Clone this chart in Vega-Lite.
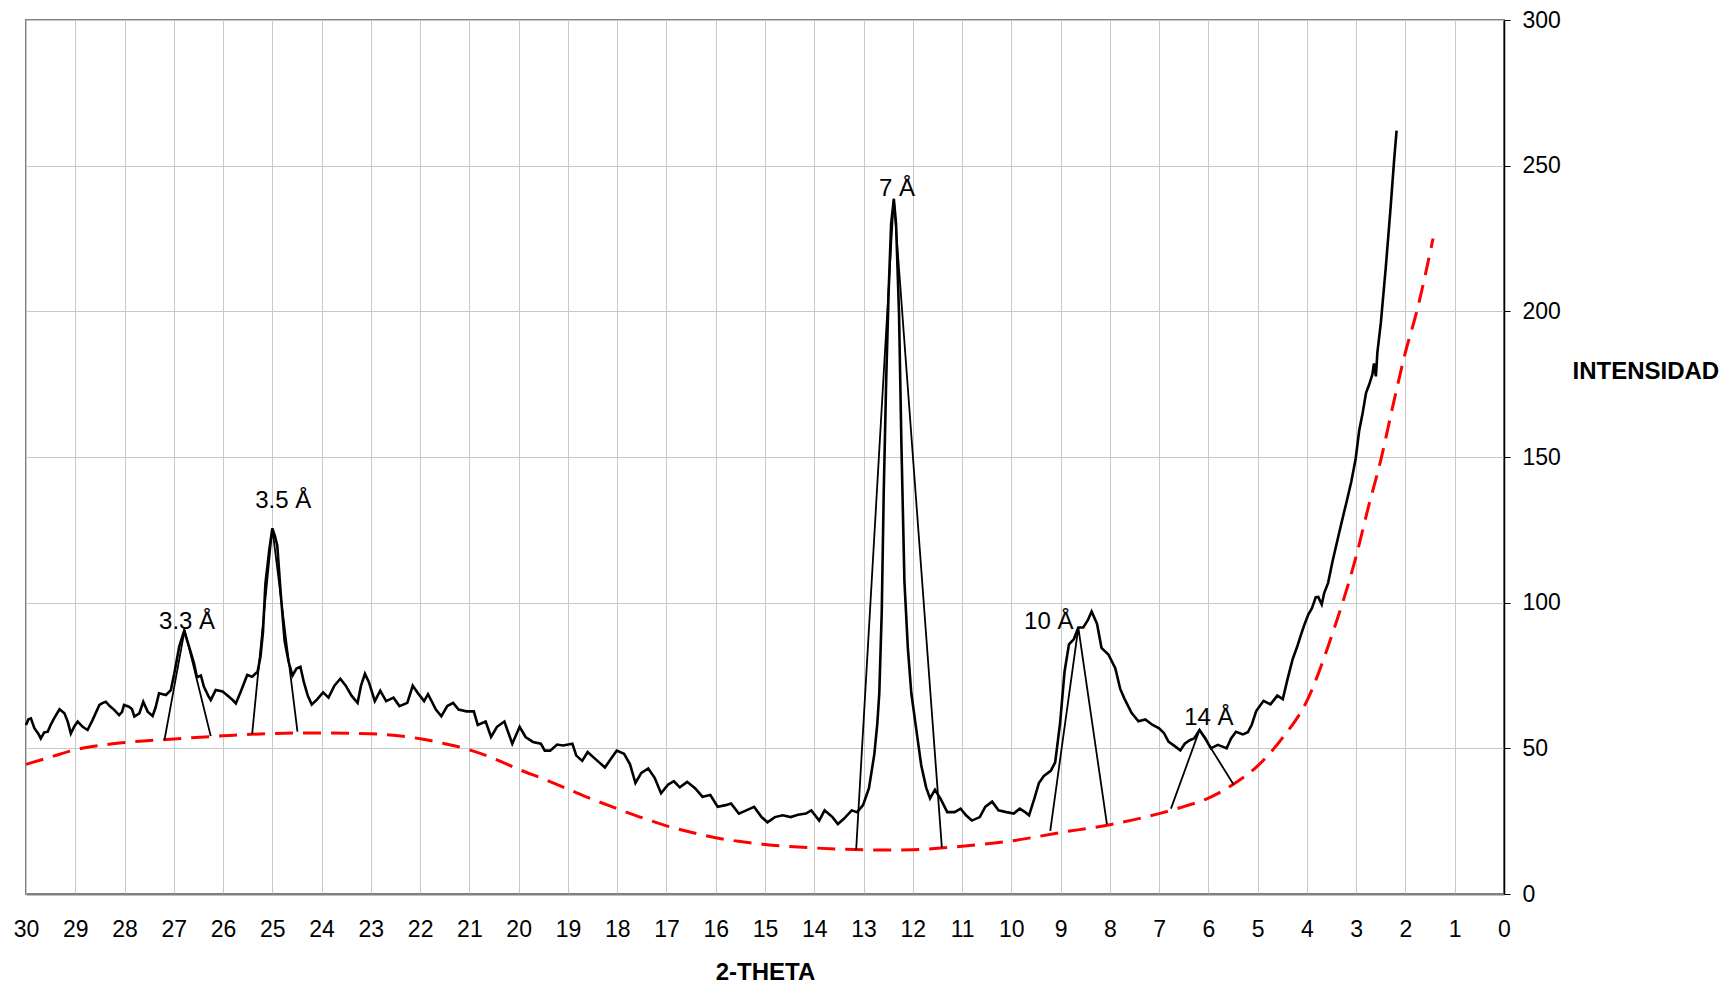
{
  "$schema": "https://vega.github.io/schema/vega-lite/v6.json",
  "width": 1478,
  "height": 874,
  "autosize": {"type": "none"},
  "padding": {"left": 26, "top": 20, "right": 222, "bottom": 92},
  "background": "white",
  "config": {
    "view": {"stroke": "#808080", "strokeWidth": 2},
    "axis": {
      "gridColor": "#c8c8c8",
      "gridWidth": 1,
      "labelFont": "Liberation Sans",
      "titleFont": "Liberation Sans",
      "labelFontSize": 23,
      "titleFontSize": 24,
      "labelColor": "#000000",
      "titleColor": "#000000",
      "titleFontWeight": "bold",
      "labelFlush": false,
      "labelOverlap": false
    }
  },
  "datasets": {
    "scan": [
      {"t":30.00,"i":58},{"t":29.95,"i":60},{"t":29.90,"i":60.3},{"t":29.83,"i":56.9},{"t":29.75,"i":55},{"t":29.70,"i":53.4},{"t":29.63,"i":55.5},{"t":29.56,"i":55.7},{"t":29.50,"i":58},{"t":29.43,"i":60.3},{"t":29.32,"i":63.4},{"t":29.22,"i":62},{"t":29.15,"i":59},{"t":29.09,"i":55.1},{"t":29.02,"i":57.5},{"t":28.95,"i":59.2},{"t":28.85,"i":57.4},{"t":28.75,"i":56.3},{"t":28.65,"i":59.7},{"t":28.51,"i":64.9},{"t":28.45,"i":65.5},{"t":28.38,"i":66},{"t":28.30,"i":64.5},{"t":28.21,"i":63.2},{"t":28.11,"i":61.4},{"t":28.05,"i":62.5},{"t":28.01,"i":64.9},{"t":27.91,"i":64.3},{"t":27.85,"i":63.5},{"t":27.80,"i":60.9},{"t":27.70,"i":62},{"t":27.62,"i":66},{"t":27.53,"i":62.6},{"t":27.43,"i":61.1},{"t":27.37,"i":64},{"t":27.30,"i":68.9},{"t":27.16,"i":68.3},{"t":27.06,"i":70},{"t":26.99,"i":75.7},{"t":26.89,"i":84.9},{"t":26.79,"i":90.3},{"t":26.69,"i":84.9},{"t":26.59,"i":79.2},{"t":26.53,"i":74.4},{"t":26.45,"i":75},{"t":26.39,"i":71.2},{"t":26.30,"i":68},{"t":26.25,"i":66.6},{"t":26.15,"i":70},{"t":26.01,"i":69.5},{"t":25.88,"i":67.7},{"t":25.80,"i":66.5},{"t":25.74,"i":65.4},{"t":25.64,"i":69.5},{"t":25.51,"i":75.2},{"t":25.41,"i":74.6},{"t":25.30,"i":76.3},{"t":25.24,"i":81.5},{"t":25.19,"i":90},{"t":25.14,"i":106.6},{"t":25.06,"i":118.4},{"t":25.00,"i":125.5},{"t":24.95,"i":123},{"t":24.90,"i":119.6},{"t":24.83,"i":103.2},{"t":24.75,"i":86.8},{"t":24.67,"i":79.7},{"t":24.59,"i":75},{"t":24.51,"i":77.4},{"t":24.43,"i":78},{"t":24.36,"i":72.7},{"t":24.28,"i":68},{"t":24.20,"i":65},{"t":24.09,"i":66.8},{"t":23.97,"i":69.2},{"t":23.86,"i":67.4},{"t":23.74,"i":71.5},{"t":23.62,"i":73.9},{"t":23.51,"i":71.5},{"t":23.39,"i":68},{"t":23.27,"i":65.6},{"t":23.20,"i":71.5},{"t":23.12,"i":75.6},{"t":23.04,"i":72.7},{"t":22.92,"i":66.2},{"t":22.81,"i":69.8},{"t":22.69,"i":66.2},{"t":22.54,"i":67.4},{"t":22.42,"i":64.5},{"t":22.26,"i":65.6},{"t":22.15,"i":71.5},{"t":22.03,"i":68.6},{"t":21.92,"i":66.2},{"t":21.84,"i":68.6},{"t":21.68,"i":63.3},{"t":21.57,"i":61},{"t":21.45,"i":64.5},{"t":21.33,"i":65.6},{"t":21.22,"i":63.3},{"t":21.06,"i":62.7},{"t":20.91,"i":62.7},{"t":20.83,"i":58},{"t":20.67,"i":59.2},{"t":20.56,"i":53.9},{"t":20.44,"i":57.4},{"t":20.29,"i":59.2},{"t":20.13,"i":51.6},{"t":19.98,"i":57.4},{"t":19.86,"i":53.9},{"t":19.71,"i":52.2},{"t":19.55,"i":51.6},{"t":19.47,"i":49.2},{"t":19.36,"i":49.2},{"t":19.22,"i":51.3},{"t":19.10,"i":51},{"t":18.91,"i":51.6},{"t":18.83,"i":47.5},{"t":18.71,"i":45.7},{"t":18.60,"i":48.7},{"t":18.48,"i":46.9},{"t":18.36,"i":45.1},{"t":18.25,"i":43.4},{"t":18.13,"i":46.3},{"t":18.01,"i":49.2},{"t":17.86,"i":48.1},{"t":17.74,"i":44.5},{"t":17.63,"i":38.1},{"t":17.51,"i":41.6},{"t":17.37,"i":43.1},{"t":17.24,"i":39.9},{"t":17.11,"i":34.6},{"t":16.97,"i":37.5},{"t":16.85,"i":38.7},{"t":16.73,"i":36.6},{"t":16.58,"i":38.5},{"t":16.42,"i":36.3},{"t":16.27,"i":33.4},{"t":16.11,"i":34},{"t":15.96,"i":29.9},{"t":15.80,"i":30.5},{"t":15.69,"i":31.1},{"t":15.53,"i":27.6},{"t":15.38,"i":28.7},{"t":15.22,"i":29.9},{"t":15.07,"i":26.4},{"t":14.95,"i":24.6},{"t":14.80,"i":26.4},{"t":14.64,"i":27},{"t":14.48,"i":26.4},{"t":14.33,"i":27.2},{"t":14.17,"i":27.6},{"t":14.06,"i":28.7},{"t":13.90,"i":25.2},{"t":13.79,"i":28.7},{"t":13.63,"i":26.4},{"t":13.52,"i":24},{"t":13.40,"i":25.8},{"t":13.24,"i":28.7},{"t":13.13,"i":28.1},{"t":13.01,"i":30.5},{"t":12.89,"i":36.3},{"t":12.78,"i":48.1},{"t":12.72,"i":58.6},{"t":12.68,"i":69},{"t":12.63,"i":97},{"t":12.59,"i":138},{"t":12.54,"i":176.5},{"t":12.49,"i":207},{"t":12.44,"i":230},{"t":12.385,"i":238.6},{"t":12.34,"i":230},{"t":12.28,"i":199.5},{"t":12.23,"i":153.4},{"t":12.17,"i":107.3},{"t":12.10,"i":84.3},{"t":12.03,"i":68.9},{"t":11.93,"i":56.6},{"t":11.83,"i":44.3},{"t":11.73,"i":36.6},{"t":11.65,"i":32.8},{"t":11.55,"i":35.8},{"t":11.43,"i":32.5},{"t":11.30,"i":28.1},{"t":11.15,"i":28.1},{"t":11.03,"i":29.3},{"t":10.92,"i":27},{"t":10.80,"i":25.2},{"t":10.64,"i":26.4},{"t":10.53,"i":29.9},{"t":10.39,"i":31.7},{"t":10.26,"i":28.7},{"t":10.10,"i":28.1},{"t":9.95,"i":27.6},{"t":9.83,"i":29.3},{"t":9.72,"i":28.1},{"t":9.64,"i":27},{"t":9.53,"i":32.9},{"t":9.44,"i":38.1},{"t":9.34,"i":40.5},{"t":9.20,"i":42.3},{"t":9.11,"i":45.2},{"t":9.01,"i":58.7},{"t":8.92,"i":76.3},{"t":8.83,"i":85.7},{"t":8.73,"i":87.5},{"t":8.64,"i":91.5},{"t":8.54,"i":91.5},{"t":8.45,"i":93.9},{"t":8.37,"i":97},{"t":8.26,"i":92.7},{"t":8.17,"i":84.5},{"t":8.03,"i":82.2},{"t":7.89,"i":77.5},{"t":7.79,"i":70.4},{"t":7.70,"i":66.9},{"t":7.56,"i":62.2},{"t":7.42,"i":59.3},{"t":7.28,"i":59.9},{"t":7.14,"i":58.1},{"t":7.00,"i":56.9},{"t":6.90,"i":55.2},{"t":6.81,"i":52.3},{"t":6.71,"i":51.1},{"t":6.57,"i":49.3},{"t":6.48,"i":51.6},{"t":6.38,"i":52.8},{"t":6.29,"i":53.4},{"t":6.18,"i":56.3},{"t":6.06,"i":53.4},{"t":5.95,"i":50},{"t":5.81,"i":51.2},{"t":5.70,"i":50.5},{"t":5.63,"i":50},{"t":5.54,"i":53.4},{"t":5.44,"i":55.7},{"t":5.30,"i":54.8},{"t":5.20,"i":55.5},{"t":5.12,"i":58.1},{"t":5.03,"i":62.8},{"t":4.88,"i":66.3},{"t":4.74,"i":65.1},{"t":4.60,"i":68.1},{"t":4.49,"i":66.9},{"t":4.39,"i":74},{"t":4.29,"i":80.6},{"t":4.19,"i":85.3},{"t":4.12,"i":89},{"t":4.05,"i":92.5},{"t":3.97,"i":96},{"t":3.90,"i":98},{"t":3.82,"i":101.9},{"t":3.77,"i":102},{"t":3.70,"i":99.4},{"t":3.65,"i":103.3},{"t":3.57,"i":106.8},{"t":3.48,"i":114.2},{"t":3.38,"i":121.5},{"t":3.29,"i":128},{"t":3.19,"i":135},{"t":3.10,"i":141.5},{"t":3.01,"i":149.5},{"t":2.94,"i":159},{"t":2.87,"i":165},{"t":2.80,"i":172},{"t":2.74,"i":174.7},{"t":2.67,"i":178.4},{"t":2.64,"i":182.1},{"t":2.60,"i":177.7},{"t":2.57,"i":185.9},{"t":2.50,"i":196},{"t":2.40,"i":215},{"t":2.30,"i":236},{"t":2.23,"i":252},{"t":2.18,"i":262}
    ],
    "baseline": [
      {"t":30,"i":44.5},{"t":29.5,"i":47},{"t":29,"i":49.5},{"t":28.5,"i":51},{"t":28,"i":52},{"t":27,"i":53.2},{"t":26,"i":54.3},{"t":25,"i":55.1},{"t":24,"i":55.3},{"t":23,"i":55},{"t":22,"i":53.3},{"t":21.5,"i":51.6},{"t":21,"i":49.5},{"t":20.5,"i":46.5},{"t":20,"i":42.8},{"t":19.5,"i":39.5},{"t":19,"i":36},{"t":18.5,"i":32.5},{"t":18,"i":29.3},{"t":17.5,"i":26.2},{"t":17,"i":23.4},{"t":16.5,"i":21.2},{"t":16,"i":19.3},{"t":15.5,"i":18},{"t":15,"i":17},{"t":14,"i":15.8},{"t":13,"i":15.2},{"t":12.5,"i":15.1},{"t":12,"i":15.2},{"t":11,"i":16.4},{"t":10,"i":18.2},{"t":9,"i":21.1},{"t":8,"i":23.8},{"t":7,"i":27.6},{"t":6.5,"i":30},{"t":6,"i":32.9},{"t":5.5,"i":37.6},{"t":5,"i":44},{"t":4.5,"i":53.5},{"t":4,"i":66.3},{"t":3.5,"i":88.5},{"t":3,"i":116},{"t":2.75,"i":133},{"t":2.5,"i":149},{"t":2.25,"i":168},{"t":2,"i":186},{"t":1.77,"i":200},{"t":1.44,"i":225}
    ],
    "peaks": [
      {"p":"3.3","t":27.19,"i":52.8},{"p":"3.3","t":26.78,"i":90.6},{"p":"3.3","t":26.25,"i":54.2},
      {"p":"3.5","t":25.41,"i":54.9},{"p":"3.5","t":25.0,"i":125.5},{"p":"3.5","t":24.49,"i":55.7},
      {"p":"7","t":13.15,"i":15.1},{"p":"7","t":12.385,"i":238.6},{"p":"7","t":11.41,"i":15.9},
      {"p":"10","t":9.21,"i":21.7},{"p":"10","t":8.64,"i":91.4},{"p":"10","t":8.06,"i":24},
      {"p":"14","t":6.76,"i":29.3},{"p":"14","t":6.18,"i":56.3},{"p":"14","t":5.49,"i":37.6}
    ],
    "labels": [
      {"t":26.73,"i":93.4,"label":"3.3 Å"},
      {"t":24.78,"i":134.9,"label":"3.5 Å"},
      {"t":12.32,"i":242,"label":"7 Å"},
      {"t":9.24,"i":93.4,"label":"10 Å"},
      {"t":5.99,"i":60.4,"label":"14 Å"}
    ]
  },
  "encoding": {
    "x": {
      "field": "t", "type": "quantitative",
      "scale": {"domain": [0, 30], "reverse": true, "nice": false, "zero": false},
      "axis": {
        "orient": "bottom",
        "values": [0,1,2,3,4,5,6,7,8,9,10,11,12,13,14,15,16,17,18,19,20,21,22,23,24,25,26,27,28,29,30],
        "grid": true,
        "ticks": false,
        "tickSize": 0,
        "domainColor": "#808080",
        "domainWidth": 2,
        "labelPadding": 24,
        "title": "2-THETA",
        "titleBaseline": "middle",
        "titleY": 78
      }
    },
    "y": {
      "field": "i", "type": "quantitative",
      "scale": {"domain": [0, 300], "nice": false},
      "axis": {
        "orient": "right",
        "values": [0,50,100,150,200,250,300],
        "grid": true,
        "domainColor": "#000000",
        "domainWidth": 1.5,
        "tickColor": "#000000",
        "tickSize": 6,
        "labelPadding": 12,
        "title": "INTENSIDAD",
        "titleAngle": 0,
        "titleAlign": "left",
        "titleBaseline": "middle",
        "titleX": 68,
        "titleY": 351
      }
    }
  },
  "layer": [
    {
      "data": {"name": "baseline"},
      "mark": {"type": "line", "color": "#ff0000", "strokeWidth": 3, "strokeDash": [18, 10], "interpolate": "monotone"}
    },
    {
      "data": {"name": "scan"},
      "mark": {"type": "line", "color": "#000000", "strokeWidth": 2.6}
    },
    {
      "data": {"name": "peaks"},
      "mark": {"type": "line", "color": "#000000", "strokeWidth": 1.8},
      "encoding": {"detail": {"field": "p", "type": "nominal"}}
    },
    {
      "data": {"name": "labels"},
      "mark": {"type": "text", "font": "Liberation Sans", "fontSize": 24, "color": "#000000", "baseline": "middle", "align": "center"},
      "encoding": {"text": {"field": "label", "type": "nominal"}}
    }
  ]
}
